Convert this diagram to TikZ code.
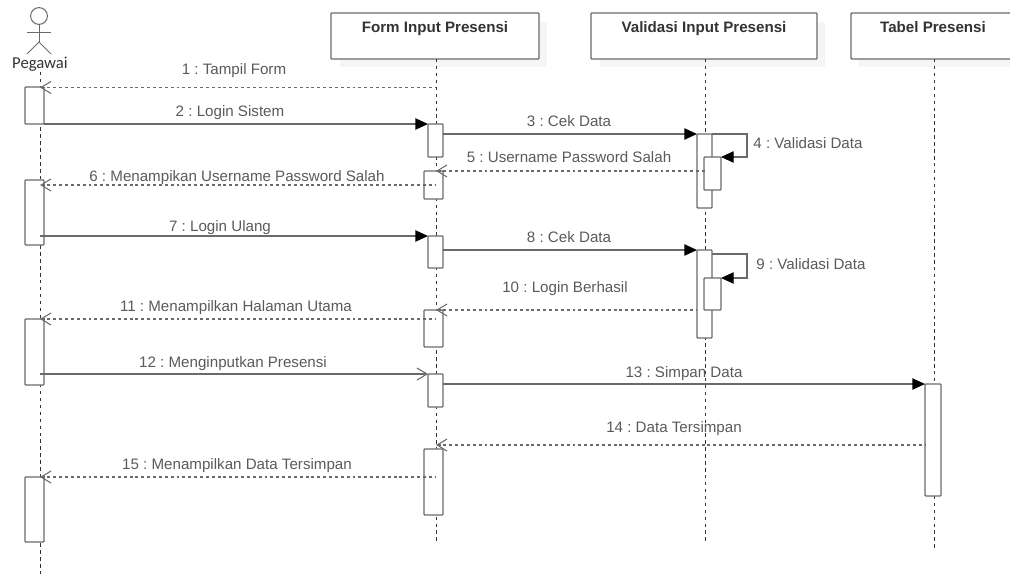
\documentclass[tikz,border=0pt]{standalone}
\usepackage{fontspec}
\setmainfont{Liberation Sans}
\newfontfamily\pegfont{Carlito}
\usetikzlibrary{arrows.meta}
\definecolor{linegrey}{HTML}{6A6A6A}
\definecolor{textgrey}{HTML}{5A5A5A}
\definecolor{headtext}{HTML}{333333}
\definecolor{lifegrey}{HTML}{333333}
\definecolor{shadowgrey}{HTML}{F5F5F5}
\frenchspacing
\newcommand{\placebox}[6]{%
  \pgfmathsetmacro\bcx{(#3+#5)/2}\pgfmathsetmacro\bcy{(#4+#6)/2}%
  \pgfmathsetmacro\bw{(#5-#3)*0.75}\pgfmathsetmacro\bh{(#6-#4)*0.75}%
  \node[#1,minimum width=\bw pt,minimum height=\bh pt] (#2) at (\bcx,\bcy) {};}
\tikzset{
  x=0.75pt,y=-0.75pt,
  base/.style={inner sep=0pt,outer sep=0pt,rectangle},
  headbox/.style={base,draw=linegrey,fill=white,line width=1pt,rounded corners=0.6pt},
  shadowbox/.style={base,fill=shadowgrey},
  activation/.style={base,draw=linegrey,fill=white,line width=1pt,rounded corners=0.6pt},
  lifeline/.style={draw=lifegrey,line width=0.7pt,dash pattern=on 2.6pt off 2.6pt},
  sync/.style={draw=linegrey,line width=1pt,-{Triangle[length=9.5pt,width=8.5pt,fill=black,color=black]}},
  reply/.style={draw=linegrey,line width=0.95pt,dash pattern=on 2.2pt off 2.2pt,{Straight Barb[length=7.5pt,width=9pt,color=linegrey,line width=0.8pt]}-},
  openmsg/.style={draw=linegrey,line width=1pt,-{Straight Barb[length=7.5pt,width=9pt,color=linegrey,line width=0.8pt]}},
  msglabel/.style={text=textgrey,font=\fontsize{11.35pt}{13pt}\selectfont,inner sep=0pt,text height=8.2pt,text depth=2.4pt,yshift=-1.4pt},
  headlabel/.style={text=headtext,font=\fontsize{11.35pt}{13pt}\selectfont\bfseries,inner sep=0pt,text height=8.2pt,text depth=2.4pt,yshift=-1.2pt},
  actorline/.style={draw=linegrey,line width=0.75pt},
}
\begin{document}
\begin{tikzpicture}
\useasboundingbox (0,0) rectangle (1010,574);
% shadows
\placebox{shadowbox}{shF}{340}{22}{547}{67}
\placebox{shadowbox}{shV}{600}{22}{825}{67}
\placebox{shadowbox}{shT}{859}{22}{1015}{67}
% head boxes
\placebox{headbox}{formbox}{331}{13}{539}{59}
\placebox{headbox}{valbox}{591}{13}{817}{59}
\placebox{headbox}{tabbox}{851}{13}{1015}{59}
\node[headlabel] (formlab) at (435,27) {Form Input Presensi};
\node[headlabel] (vallab) at (704,27) {Validasi Input Presensi};
\node[headlabel] (tablab) at (933,27) {Tabel Presensi};
% actor
\node[base,circle,draw=linegrey,line width=0.75pt,minimum size=12.6pt] (head) at (39,16) {};
\coordinate (hip) at (39,42);
\coordinate (armL) at (27,33);
\coordinate (armR) at (51,33);
\coordinate (footL) at (27,54);
\coordinate (footR) at (51,54);
\draw[actorline] (head.south) -- (hip);
\draw[actorline] (armL) -- (armR);
\draw[actorline] (footL) -- (hip) -- (footR);
\node[text=black!80,font=\pegfont\fontsize{12.5pt}{14pt}\selectfont,inner sep=0pt] (peg) at (40,64) {Pegawai};
% lifelines
\coordinate (lpT) at (40,72);   \coordinate (lpB) at (40,574);
\coordinate (lfT) at (436,59);  \coordinate (lfB) at (436,543);
\coordinate (lvT) at (705,59);  \coordinate (lvB) at (705,543);
\coordinate (ltT) at (934,59);  \coordinate (ltB) at (934,551);
\draw[lifeline] (lpT) -- (lpB);
\draw[lifeline] (lfT) -- (lfB);
\draw[lifeline] (lvT) -- (lvB);
\draw[lifeline] (ltT) -- (ltB);
% activations
\placebox{activation}{pa1}{25}{87}{44}{124}
\placebox{activation}{pa2}{25}{180}{44}{245}
\placebox{activation}{pa3}{25}{319}{44}{385}
\placebox{activation}{pa4}{25}{477}{44}{542}
\placebox{activation}{fa1}{428}{124}{443}{157}
\placebox{activation}{fa2}{424}{171}{443}{199}
\placebox{activation}{fa3}{428}{236}{443}{268}
\placebox{activation}{fa4}{424}{310}{443}{347}
\placebox{activation}{fa5}{428}{374}{443}{407}
\placebox{activation}{fa6}{424}{449}{443}{515}
\placebox{activation}{va1}{697}{134}{712}{208}
\placebox{activation}{va2}{697}{250}{712}{338}
\placebox{activation}{ia1}{704}{157}{721}{190}
\placebox{activation}{ia2}{704}{278}{721}{310}
\placebox{activation}{ta1}{925}{384}{941}{496}
% message levels
\coordinate (y1) at (0,87.5);
\coordinate (y6) at (0,185);
\coordinate (y9) at (0,254);
\coordinate (y14) at (0,445);
\coordinate (s4) at (747,134);
\coordinate (e4) at (747,157);
\coordinate (s9) at (747,254);
\coordinate (e9) at (747,278);
% messages
\draw[reply] (lpT |- y1) -- (lfT |- y1);
\draw[sync] (pa1.south east) -- (fa1.north west);
\draw[sync] (fa1.east |- va1.north) -- (va1.north west);
\draw[sync] (va1.north east) -- (s4) -- (e4) -- (ia1.north east);
\draw[reply] (lfT |- fa2.north) -- (lvT |- fa2.north);
\draw[reply] (lpT |- y6) -- (lfT |- y6);
\draw[sync] (lpT |- fa3.north) -- (fa3.north west);
\draw[sync] (fa3.east |- va2.north) -- (va2.north west);
\draw[sync] (va2.east |- y9) -- (s9) -- (e9) -- (ia2.north east);
\draw[reply] (lfT |- fa4.north) -- (va2.west |- fa4.north);
\draw[reply] (lpT |- pa3.north) -- (lfT |- pa3.north);
\draw[openmsg] (lpT |- fa5.north) -- (fa5.north west);
\draw[sync] (fa5.east |- ta1.north) -- (ta1.north west);
\draw[reply] (lfT |- y14) -- (ta1.west |- y14);
\draw[reply] (lpT |- pa4.north) -- (lfT |- pa4.north);
% labels
\node[msglabel] (t1) at (234,69) {1 : Tampil Form};
\node[msglabel] (t2) at (230,111) {2 : Login Sistem};
\node[msglabel] (t3) at (569,121) {3 : Cek Data};
\node[msglabel] (t4) at (808,143) {4 : Validasi Data};
\node[msglabel] (t5) at (569,157) {5 : Username Password Salah};
\node[msglabel] (t6) at (237,176) {6 : Menampikan Username Password Salah};
\node[msglabel] (t7) at (220,226) {7 : Login Ulang};
\node[msglabel] (t8) at (569,237) {8 : Cek Data};
\node[msglabel] (t9) at (811,264) {9 : Validasi Data};
\node[msglabel] (t10) at (565,287) {10 : Login Berhasil};
\node[msglabel] (t11) at (236,306) {11 : Menampilkan Halaman Utama};
\node[msglabel] (t12) at (233,362) {12 : Menginputkan Presensi};
\node[msglabel] (t13) at (684,372) {13 : Simpan Data};
\node[msglabel] (t14) at (674,427) {14 : Data Tersimpan};
\node[msglabel] (t15) at (237,464) {15 : Menampilkan Data Tersimpan};
\end{tikzpicture}
\end{document}
